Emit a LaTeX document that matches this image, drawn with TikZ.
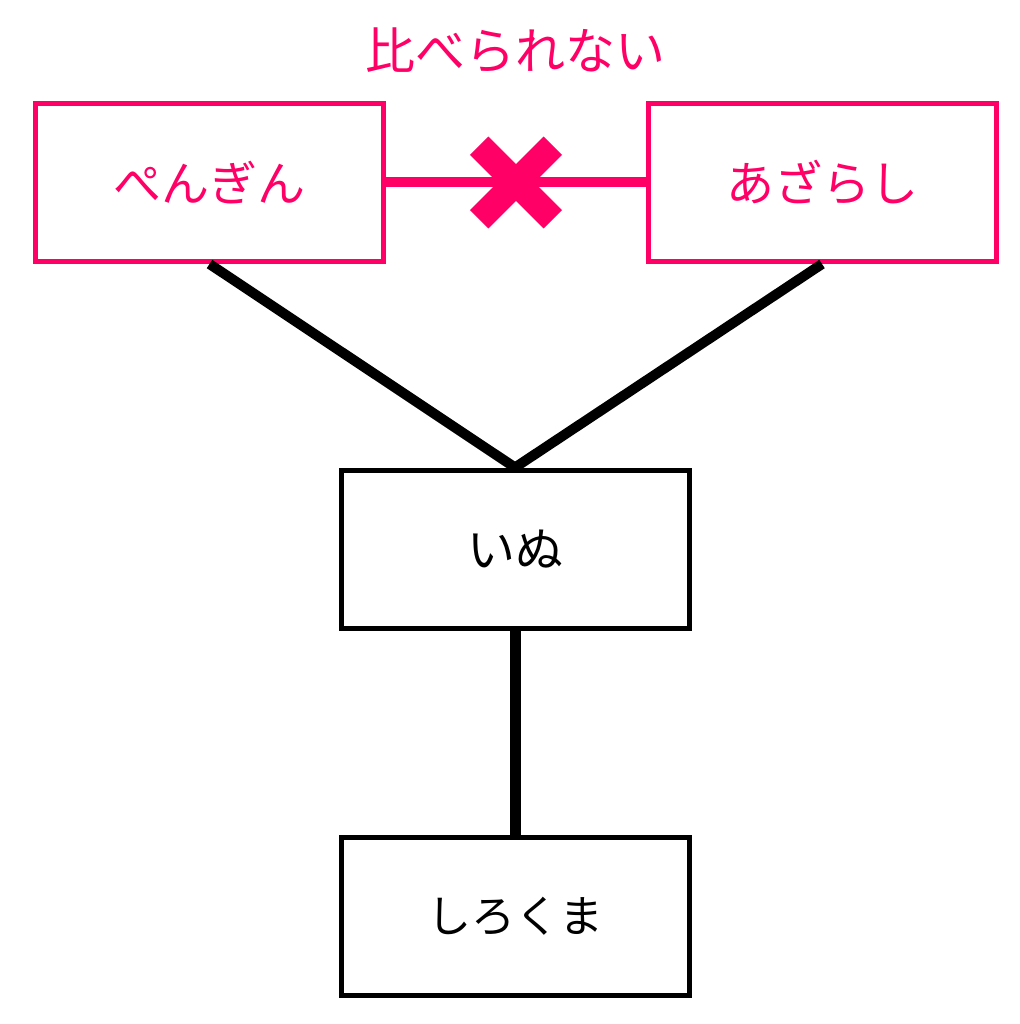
\documentclass[tikz,border=0pt]{standalone}
\usepackage{fontspec}
\usetikzlibrary{calc}
\newfontfamily\jp{Noto Sans CJK JP}
\definecolor{hotpink}{RGB}{255,0,102}
\begin{document}
\begin{tikzpicture}[x=1pt,y=-1pt,
  box/.style={draw, line width=5pt, minimum width=348pt, minimum height=158pt, inner sep=0pt, font=\jp\fontsize{48}{52}\selectfont},
  pinkbox/.style={box, draw=hotpink, text=hotpink},
  blackbox/.style={box, draw=black, text=black},
  link/.style={line width=10pt, draw=black},
]
\useasboundingbox (0,0) rectangle (1019,1024);
\node[text=hotpink, font=\jp\fontsize{50}{54}\selectfont] (title) at (515,50) {比べられない};
\node[pinkbox] (pen) at (209.5,182.5) {ぺんぎん};
\node[pinkbox] (aza) at (822,182.5) {あざらし};
\node[blackbox] (inu) at (515,549) {いぬ};
\node[blackbox, font=\jp\fontsize{44}{48}\selectfont] (shiro) at (515,916) {しろくま};
\coordinate (x) at (516,182.5);
\draw[hotpink, line width=10pt] (pen.east) -- (aza.west);
\draw[hotpink, line width=26pt] ($(x)+(-36.8,-36.8)$) -- ($(x)+(36.8,36.8)$);
\draw[hotpink, line width=26pt] ($(x)+(36.8,-36.8)$) -- ($(x)+(-36.8,36.8)$);
\draw[link] (pen.south) -- (inu.north);
\draw[link] (aza.south) -- (inu.north);
\draw[link, line width=11pt] (inu.south) -- (shiro.north);
\end{tikzpicture}
\end{document}
